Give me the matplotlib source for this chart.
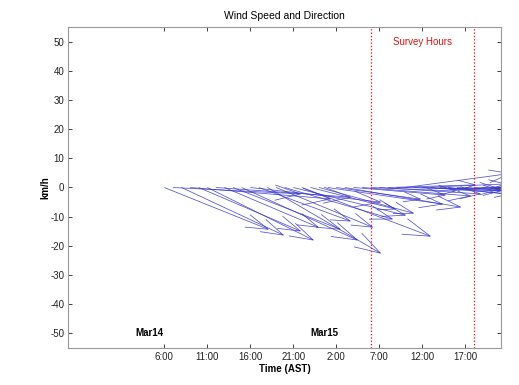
import matplotlib
matplotlib.use("Agg")
import matplotlib.pyplot as plt
import numpy as np
from matplotlib.collections import LineCollection

plt.rcParams['font.family'] = ['Liberation Sans', 'DejaVu Sans']
plt.rcParams['axes.unicode_minus'] = False

# ---- data (hours since Mar14 00:00 AST; wind components in km/h) ----
hours = [6, 7, 8, 9, 10, 11, 12, 13, 14, 15, 16, 17, 18, 19, 20, 21, 22, 23,
         24, 25, 26, 27, 28, 29, 30, 31, 32, 33, 34, 35, 36, 37, 38, 39, 40,
         41, 42, 43, 44, 45]
u_kmh = [35.6, 43.7, 34.9, 48.1, 34.8, 36.3, 46.1, 32.1, 36.7, 39.6, 44.6,
         31.3, 38.7, 33.0, 36.9, 38.4, 44.0, 29.0, 32.3, 39.3, 28.8, 39.6,
         31.4, 37.1, 29.0, 34.6, 29.9, 35.6, 36.0, 29.7, 28.4, 27.2, 27.7,
         26.4, 25.2, 24.0, 25.0, 26.0, 22.0, 20.0]
v_kmh = [-14.3, -2.2, -16.3, -3.9, -14.9, -18.0, -3.3, -13.6, -14.3, -18.0,
         -5.0, -11.5, -22.5, -13.6, -10.8, -9.5, -16.7, -7.4, -8.8, -5.7,
         -4.0, -6.7, -2.6, -2.9, -1.2, -2.2, 0.9, -0.5, 4.8, -1.2, 1.2, -2.2,
         -1.5, -3.0, -1.0, -2.0, 0.5, -1.5, -0.8, -2.0]

tick_hours = [6, 11, 16, 21, 26, 31, 36, 41]
tick_labels = ['6:00', '11:00', '16:00', '21:00', '2:00', '7:00', '12:00', '17:00']
yticks = [-50, -40, -30, -20, -10, 0, 10, 20, 30, 40, 50]
survey_start, survey_end = 30, 42
date_labels = ['Mar14', 'Mar15']
date_label_x = [4.3, 24.6]
xlim = (-5.16, 45.12)
ylim = (-55, 55)

# ---- figure ----
fig = plt.figure(figsize=(5.19, 3.85), dpi=100)
ax = fig.add_axes([0.1316, 0.0961, 0.8332, 0.8338])
ax.set_xlim(*xlim)
ax.set_ylim(*ylim)

# scale so that u (km/h) has the same on-screen length as v (km/h)
fig.canvas.draw()
p0 = ax.transData.transform((0, 0))
px = ax.transData.transform((1, 0))[0] - p0[0]
py = ax.transData.transform((0, 1))[1] - p0[1]
k = py / px

alpha, beta = 0.2, 0.3
segs = []
for t, u, v in zip(hours, u_kmh, v_kmh):
    tx, ty = t + k * u, v
    segs.append([(t, 0), (tx, ty)])
    w1 = (tx - k * alpha * (u + beta * v), ty - alpha * (v - beta * u))
    w2 = (tx - k * alpha * (u - beta * v), ty - alpha * (v + beta * u))
    segs.append([w1, (tx, ty), w2])
lc = LineCollection(segs, colors='#3535c8', linewidths=0.55, alpha=0.85)
ax.add_collection(lc)

for xs in (survey_start, survey_end):
    ax.axvline(xs, color='red', linestyle=':', linewidth=0.9)
ax.text((survey_start + survey_end) / 2, 50, 'Survey Hours', color='#e01010',
        ha='center', va='center', fontsize=7)

for lbl, xd in zip(date_labels, date_label_x):
    ax.text(xd, -50, lbl, ha='center', va='center', fontsize=7, fontweight='bold')

ax.set_xticks(tick_hours)
ax.set_xticklabels(tick_labels)
ax.set_yticks(yticks)
ax.tick_params(direction='in', length=3, width=0.6, labelsize=7, colors='#222222',
               top=True, right=True, pad=3)
for s in ax.spines.values():
    s.set_color('#999999')
    s.set_linewidth(0.8)

ax.set_title('Wind Speed and Direction', fontsize=7.5, pad=6)
ax.set_xlabel('Time (AST)', fontsize=7, fontweight='bold', labelpad=1)
ax.set_ylabel('km/h', fontsize=7, fontweight='bold', labelpad=0)

fig.savefig('out.png', dpi=100)
